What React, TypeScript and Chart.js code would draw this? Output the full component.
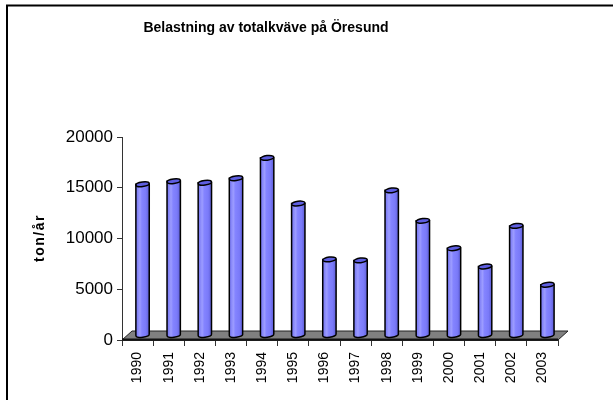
import React, { useEffect, useRef } from "react";
import { Chart, registerables } from "chart.js";

Chart.register(...registerables);

const chartTitle = "Belastning av totalkväve på Öresund";
const yAxisTitle = "ton/år";
const years = ["1990", "1991", "1992", "1993", "1994", "1995", "1996", "1997", "1998", "1999", "2000", "2001", "2002", "2003"];
const belastning = [14900, 15200, 15050, 15500, 17500, 13000, 7500, 7400, 14300, 11300, 8600, 6800, 10800, 5000];
const yMin = 0;
const yMax = 20000;
const yStep = 5000;

const DX = 10;
const DY = 9;

const frameAndTitle = {
  id: "frameAndTitle",
  afterDraw(chart: any) {
    const ctx = chart.ctx;
    ctx.save();
    ctx.strokeStyle = "#000";
    ctx.lineWidth = 2;
    ctx.strokeRect(7, 5.5, 800, 600);
    ctx.fillStyle = "#000";
    ctx.font = "bold 14px 'Liberation Sans', Arial, sans-serif";
    ctx.textAlign = "center";
    ctx.textBaseline = "middle";
    ctx.fillText(chartTitle, 266, 28);
    ctx.translate(40, 238);
    ctx.rotate(-Math.PI / 2);
    ctx.font = "bold 14px 'Liberation Sans', Arial, sans-serif";
    try {
      (ctx as any).letterSpacing = "1.5px";
    } catch (e) {}
    ctx.fillText(yAxisTitle, 0, 0);
    ctx.restore();
  },
};

const cylinders = {
  id: "cylinders",
  beforeDatasetsDraw(chart: any) {
    const xs = chart.scales.x;
    const ys = chart.scales.y;
    const y0 = ys.getPixelForValue(0);
    const ctx = chart.ctx;
    ctx.save();
    ctx.beginPath();
    ctx.moveTo(xs.left, y0);
    ctx.lineTo(xs.left + DX, y0 - DY);
    ctx.lineTo(xs.right + DX, y0 - DY);
    ctx.lineTo(xs.right, y0);
    ctx.closePath();
    ctx.fillStyle = "#808080";
    ctx.fill();
    ctx.strokeStyle = "#222";
    ctx.lineWidth = 1;
    ctx.stroke();
    ctx.beginPath();
    ctx.moveTo(xs.left, y0 - 0.5);
    ctx.lineTo(xs.right, y0 - 0.5);
    ctx.lineWidth = 2;
    ctx.strokeStyle = "#111";
    ctx.stroke();
    ctx.restore();
  },
  afterDatasetsDraw(chart: any) {
    const ctx = chart.ctx;
    const meta = chart.getDatasetMeta(0);
    meta.data.forEach((el: any) => {
      const p = el.getProps(["x", "y", "base", "width"], true);
      const cx = p.x + DX / 2;
      const top = p.y - DY / 2;
      const bottom = p.base - DY / 2;
      const w = p.width;
      const l = cx - w / 2;
      const r = cx + w / 2;
      const ry = 2.3;
      const rot = -0.12;
      ctx.save();
      const g = ctx.createLinearGradient(l, 0, r, 0);
      g.addColorStop(0, "#7272f2");
      g.addColorStop(0.3, "#9c9cff");
      g.addColorStop(0.45, "#8484ff");
      g.addColorStop(0.75, "#7a7af8");
      g.addColorStop(1, "#5c5cd4");
      ctx.beginPath();
      ctx.moveTo(l, top);
      ctx.lineTo(l, bottom);
      ctx.ellipse(cx, bottom, w / 2, ry, rot, Math.PI, 0, true);
      ctx.lineTo(r, top);
      ctx.closePath();
      ctx.fillStyle = g;
      ctx.fill();
      ctx.lineWidth = 1.5;
      ctx.strokeStyle = "#000";
      ctx.stroke();
      ctx.beginPath();
      ctx.ellipse(cx, top, w / 2, ry, rot, 0, Math.PI * 2);
      ctx.fillStyle = "#5e5ee0";
      ctx.fill();
      ctx.stroke();
      ctx.restore();
    });
  },
};

export default function App() {
  const ref = useRef<HTMLCanvasElement | null>(null);
  useEffect(() => {
    document.body.style.margin = "0";
    const canvas = ref.current;
    if (!canvas) return;
    const chart = new Chart(canvas, {
      type: "bar",
      data: {
        labels: years,
        datasets: [
          {
            label: "Belastning",
            data: belastning,
            backgroundColor: "rgba(0,0,0,0)",
            borderWidth: 0,
            barPercentage: 0.43,
            categoryPercentage: 1,
          },
        ],
      },
      options: {
        responsive: false,
        animation: false,
        events: [],
        layout: { padding: { left: 0, right: 55, top: 137, bottom: 0 } },
        plugins: {
          legend: { display: false },
          title: { display: false },
          tooltip: { enabled: false },
        },
        scales: {
          x: {
            grid: { display: true, drawOnChartArea: false, offset: true, tickLength: 6, color: "#333" },
            border: { display: true, color: "#333", width: 1 },
            ticks: {
              minRotation: 90,
              maxRotation: 90,
              autoSkip: false,
              padding: 6,
              color: "#000",
              font: { family: "'Liberation Sans', Arial, sans-serif", size: 14 },
            },
            afterFit(scale: any) {
              scale.height = 60;
            },
          },
          y: {
            min: yMin,
            max: yMax,
            grid: { display: true, drawOnChartArea: false, tickLength: 5, color: "#333" },
            border: { display: true, color: "#333", width: 1 },
            ticks: {
              stepSize: yStep,
              padding: 4,
              color: "#000",
              font: { family: "'Liberation Sans', Arial, sans-serif", size: 17 },
              callback: (v: any) => String(v),
            },
            afterFit(scale: any) {
              scale.width = 122;
            },
          },
        },
      },
      plugins: [cylinders, frameAndTitle],
    });
    return () => chart.destroy();
  }, []);
  return <canvas ref={ref} width={613} height={400} style={{ display: "block" }} />;
}
